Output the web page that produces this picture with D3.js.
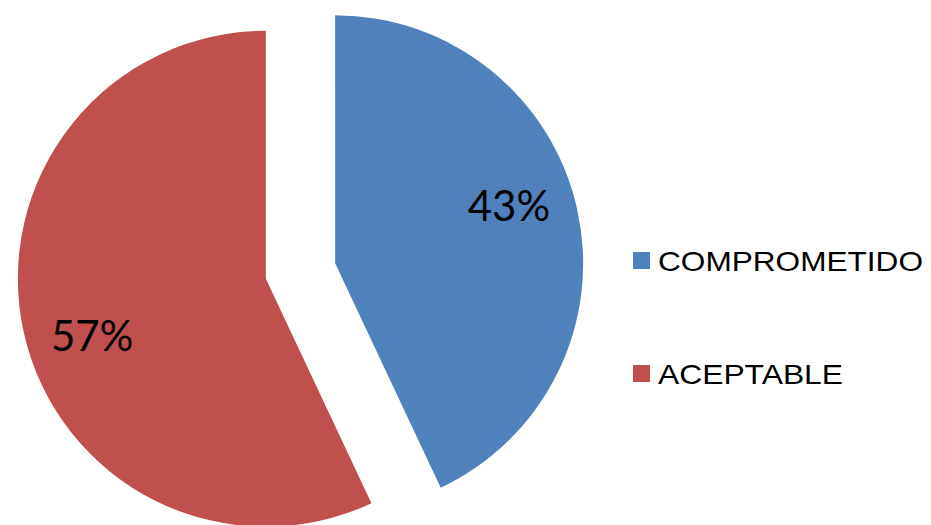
<!DOCTYPE html>
<html>
<head>
<meta charset="utf-8">
<script src="https://cdn.jsdelivr.net/npm/d3@7"></script>
<style>
  body { margin: 0; background: #fff; }
  svg { display: block; }
</style>
</head>
<body>
<svg id="chart" width="931" height="525"></svg>
<script>
const categories = ["COMPROMETIDO", "ACEPTABLE"];
const values = [43, 57];
const colors = ["#4f81bd", "#c0504d"];

const svg = d3.select("#chart");

const cx = 300.5, cy = 271;
const radius = 248;
const explode = 35.5;

const pie = d3.pie().sort(null).value((d) => d.value);
const arcs = pie(categories.map((c, i) => ({ name: c, value: values[i] })));

const arcGen = d3.arc().innerRadius(0).outerRadius(radius);
// labels sit a bit ahead of the mid-angle, like the original
const labelArc = d3.arc().innerRadius(183).outerRadius(183);

const pieG = svg.append("g").attr("transform", `translate(${cx},${cy})`);

const slice = pieG
  .selectAll(".slice")
  .data(arcs)
  .enter()
  .append("g")
  .attr("class", "slice")
  .attr("transform", (d) => {
    const mid = (d.startAngle + d.endAngle) / 2;
    return `translate(${Math.sin(mid) * explode},${-Math.cos(mid) * explode})`;
  });

slice
  .append("path")
  .attr("d", arcGen)
  .attr("fill", (d, i) => colors[i]);

slice
  .append("text")
  .attr("transform", (d) => {
    const shift = { startAngle: d.startAngle - 0.1, endAngle: d.endAngle - 0.1 };
    const [x, y] = labelArc.centroid(shift);
    return `translate(${x},${y})`;
  })
  .attr("text-anchor", "middle")
  .attr("dy", "0.36em")
  .attr("font-family", "Lato, 'Noto Sans', sans-serif")
  .attr("font-size", 42)
  .attr("fill", "#000")
  .text((d) => `${d.data.value}%`);

// legend
const legend = svg.append("g").attr("transform", "translate(633,252)");
const item = legend
  .selectAll(".item")
  .data(categories)
  .enter()
  .append("g")
  .attr("class", "item")
  .attr("transform", (d, i) => `translate(0,${i * 113})`);

item
  .append("rect")
  .attr("width", 17)
  .attr("height", 17)
  .attr("fill", (d, i) => colors[i]);

item
  .append("text")
  .attr("x", 25)
  .attr("y", 19)
  .attr("font-family", "'Liberation Sans', Arial, sans-serif")
  .attr("font-size", 28)
  .attr("fill", "#000")
  .attr("textLength", (d) => (d === "COMPROMETIDO" ? 265 : 185))
  .attr("lengthAdjust", "spacingAndGlyphs")
  .text((d) => d);
</script>
</body>
</html>
